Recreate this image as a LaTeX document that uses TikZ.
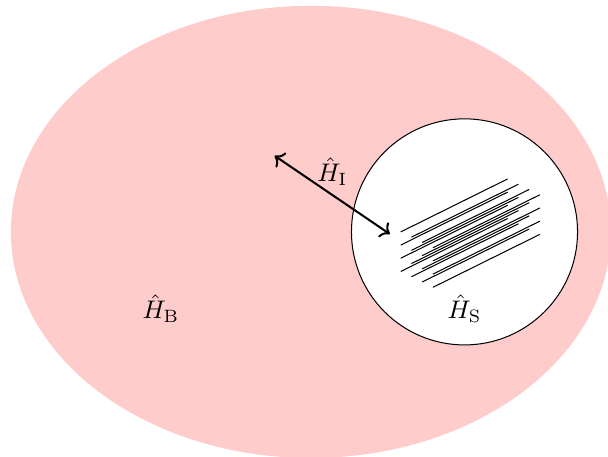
\documentclass[tikz,border=0pt]{standalone}
\usepackage{amsmath,amssymb}
\usepackage{xcolor}
\usepackage{tikz}
\usetikzlibrary{arrows.meta,positioning,shapes.geometric}

\begin{document}
\begin{tikzpicture}[
    bath/.style={ellipse, fill=red!20, draw=none, minimum width=8.28cm, minimum height=6.24cm, inner sep=0pt},
    system/.style={circle, draw=black, fill=white, minimum size=3.12cm, inner sep=0pt},
    coupling/.style={<->, thick},
    strand/.style={thin, draw=black}
]
    \useasboundingbox (-4.29,-3.10) rectangle (4.10,3.20);

    % Bath and system
    \node (bath) [bath] at (0,0) {};
    \node (sys) [system] at (2.12,0) {};

    % Labels
    \node (hb) at (-2.07,-1.06) {$\hat{H}_{\mathrm{B}}$};
    \node (hs) at (2.12,-1.06) {$\hat{H}_{\mathrm{S}}$};

    % Coupling
    \coordinate (cb) at (-0.50,1.05);
    \coordinate (cs) at (1.09,-0.03);
    \draw [coupling] (cb) -- node[above] (hi) {$\hat{H}_{\mathrm{I}}$} (cs);

    % Strands inside the system
    \begin{scope}[shift={(sys.center)}]
        \foreach \i in {0,...,3}
            \foreach \j in {0,...,3}
                \draw [strand] ({-0.88+0.148*\j},{-0.182*\i-0.073*\j}) -- ++(1.476,0.731);
    \end{scope}
\end{tikzpicture}
\end{document}
